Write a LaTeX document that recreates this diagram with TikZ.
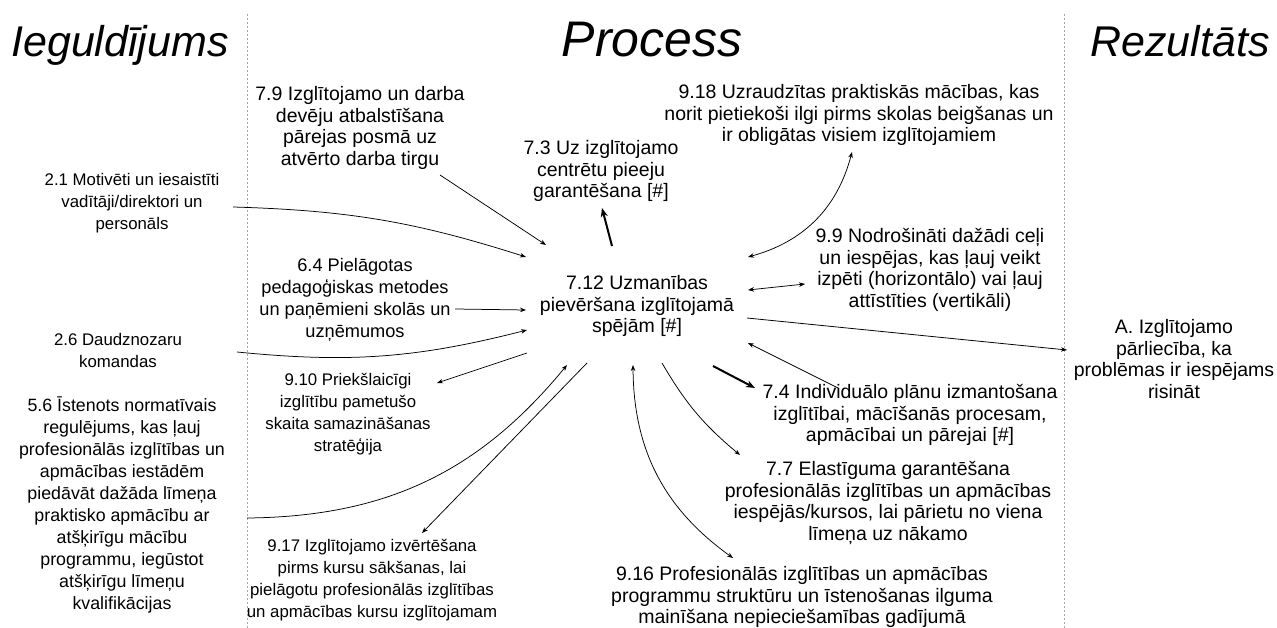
\documentclass[tikz,border=0pt]{standalone}
\usepackage{fontspec}
\setmainfont{Liberation Sans}
\usetikzlibrary{arrows.meta,calc}

\begin{document}
\begin{tikzpicture}[x=1pt,y=-1pt,
			main node/.style={align=center,inner sep=0pt,font=\fontsize{16.8}{22}\selectfont},
			mid node/.style={main node,font=\fontsize{18.2}{22}\selectfont},
			big node/.style={main node,font=\fontsize{19.5}{21.5}\selectfont},
			head node/.style={inner sep=0pt,anchor=base,font=\fontsize{43}{48}\selectfont\itshape},
			divider/.style={gray!70,line width=0.8pt,dash pattern=on 2pt off 2pt},
			link/.style={line width=0.75pt,-{Stealth[length=6pt,width=4.5pt]}},
			both/.style={line width=0.75pt,{Stealth[length=6pt,width=4.5pt]}-{Stealth[length=6pt,width=4.5pt]}},
			heavy/.style={line width=2pt,-{Stealth[length=9pt,width=7pt]}}]
			
			\useasboundingbox (0,0) rectangle (1277,628);
			\fill[white] (0,0) rectangle (1277,628);
			
			% column titles and dividers
			\node[head node] (in) at (120,57) {Ieguldījums};
			\node[head node,font=\fontsize{50}{54}\selectfont\itshape] (pr) at (652,57) {Process};
			\node[head node] (out) at (1180,57) {Rezultāts};
			\draw[divider] (247,14) -- (247,628);
			\draw[divider] (1064,14) -- (1064,628);
			
			\node[big node] (n712) at (637,306) {7.12 Uzmanības\\pievēršana izglītojamā\\spējām [\#]};
			\node[big node] (n79) at (360,128) {7.9 Izglītojamo un darba\\devēju atbalstīšana\\pārejas posmā uz\\atvērto darba tirgu};
			\node[big node] (n73) at (601,171) {7.3 Uz izglītojamo\\centrētu pieeju\\garantēšana [\#]};
			\node[big node] (n918) at (859,115) {9.18 Uzraudzītas praktiskās mācības, kas\\norit pietiekoši ilgi pirms skolas beigšanas un\\ir obligātas visiem izglītojamiem};
			\node[main node] (n21) at (132,203) {2.1 Motivēti un iesaistīti\\vadītāji/direktori un\\personāls};
			\node[mid node] (n64) at (355,300) {6.4 Pielāgotas\\pedagoģiskas metodes\\un paņēmieni skolās un\\uzņēmumos};
			\node[big node] (n99) at (930,270) {9.9 Nodrošināti dažādi ceļi\\un iespējas, kas ļauj veikt\\izpēti (horizontālo) vai ļauj\\attīstīties (vertikāli)};
			\node[big node] (nA) at (1174,359) {A. Izglītojamo\\pārliecība, ka\\problēmas ir iespējams\\risināt};
			\node[main node] (n26) at (118,350) {2.6 Daudznozaru\\komandas};
			\node[main node] (n910) at (348,414) {9.10 Priekšlaicīgi\\izglītību pametušo\\skaita samazināšanas\\stratēģija};
			\node[main node,font=\fontsize{17.8}{22}\selectfont] (n56) at (122,505) {5.6 Īstenots normatīvais\\regulējums, kas ļauj\\profesionālās izglītības un\\apmācības iestādēm\\piedāvāt dažāda līmeņa\\praktisko apmācību ar\\atšķirīgu mācību\\programmu, iegūstot\\atšķirīgu līmeņu\\kvalifikācijas};
			\node[main node] (n917) at (372,580) {9.17 Izglītojamo izvērtēšana\\pirms kursu sākšanas, lai\\pielāgotu profesionālās izglītības\\un apmācības kursu izglītojamam};
			\node[big node] (n74) at (910,415) {7.4 Individuālo plānu izmantošana\\izglītībai, mācīšanās procesam,\\apmācībai un pārejai [\#]};
			\node[big node] (n77) at (888,503) {7.7 Elastīguma garantēšana\\profesionālās izglītības un apmācības\\iespējās/kursos, lai pārietu no viena\\līmeņa uz nākamo};
			\node[big node] (n916) at (802,597) {9.16 Profesionālās izglītības un apmācības\\programmu struktūru un īstenošanas ilguma\\mainīšana nepieciešamības gadījumā};
			
			% inputs
			\draw[link] ($(n79)+(80,47)$) -- ($(n712)+(-91,-61)$);
			\draw[link] ($(n21)+(101,4)$) to[bend left=8] ($(n712)+(-111,-49)$);
			\draw[link] ($(n64)+(100,9)$) -- ($(n712)+(-111,4)$);
			\draw[link] ($(n26)+(119,2)$) to[bend right=10] ($(n712)+(-110,24)$);
			\draw[link] ($(n56)+(125,13)$) to[bend right=25] ($(n712)+(-70,59)$);
			\draw[link] ($(n74)+(-72,-27)$) -- ($(n712)+(111,37)$);
			
			% outputs
			\draw[heavy] ($(n712)+(-25,-60)$) -- ($(n73)+(1,37)$);
			\draw[heavy] ($(n712)+(76,60)$) -- ($(n74)+(-155,-27)$);
			\draw[link] ($(n712)+(110,12)$) -- ($(nA)+(-107,-9)$);
			\draw[link] ($(n712)+(-110,47)$) -- ($(n910)+(89,-31)$);
			\draw[link] ($(n712)+(-50,57)$) -- ($(n917)+(50,-47)$);
			\draw[link] ($(n712)+(25,57)$) to[bend right=10] ($(n77)+(-148,-48)$);
			
			% both ways
			\draw[both] ($(n712)+(111,-49)$) to[bend right=30] ($(n918)+(-7,37)$);
			\draw[both] ($(n712)+(111,-16)$) -- ($(n99)+(-125,14)$);
			\draw[both] ($(n712)+(-4,59)$) to[bend right=27] ($(n916)+(-69,-39)$);
			
\end{tikzpicture}
\end{document}
